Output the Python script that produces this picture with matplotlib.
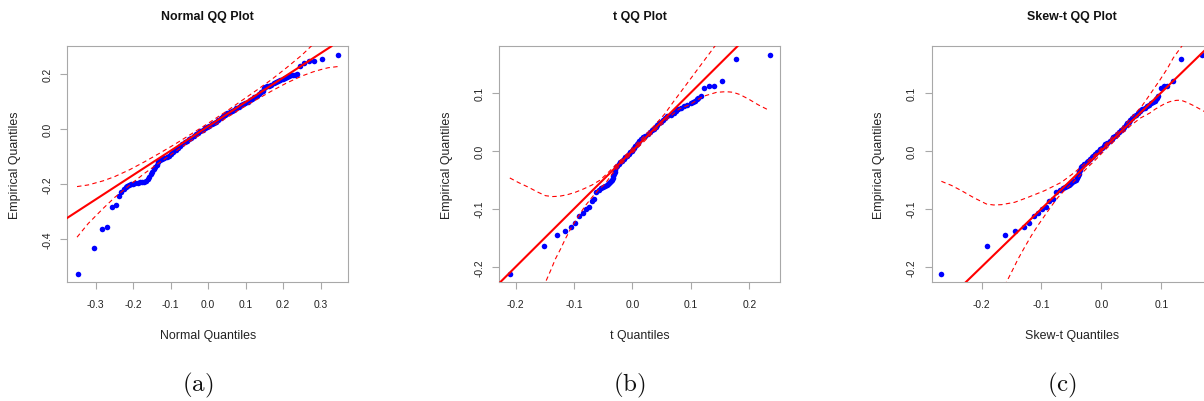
import matplotlib
matplotlib.use("Agg")
import matplotlib.pyplot as plt

plt.rcParams['font.family'] = ['Liberation Sans', 'DejaVu Sans']
plt.rcParams['mathtext.fontset'] = 'cm'

# ---- panel (a): Normal QQ ----
norm_x = [-0.348, -0.305, -0.283, -0.269, -0.256, -0.247, -0.239, -0.232, -0.225, -0.220,
          -0.216, -0.211, -0.206, -0.200, -0.194, -0.188, -0.182, -0.176, -0.170, -0.165,
          -0.161, -0.157, -0.153, -0.149, -0.145, -0.141, -0.137, -0.133, -0.128, -0.123,
          -0.117, -0.111, -0.105, -0.099, -0.093, -0.087, -0.081, -0.075, -0.069, -0.063,
          -0.057, -0.051, -0.045, -0.039, -0.033, -0.027, -0.021, -0.015, -0.009, -0.003,
          0.003, 0.009, 0.015, 0.021, 0.027, 0.033, 0.039, 0.045, 0.051, 0.057,
          0.063, 0.069, 0.075, 0.081, 0.087, 0.093, 0.099, 0.105, 0.111, 0.117,
          0.123, 0.129, 0.135, 0.141, 0.146, 0.148, 0.152, 0.157, 0.163, 0.169,
          0.175, 0.181, 0.187, 0.193, 0.199, 0.205, 0.211, 0.217, 0.222, 0.227,
          0.232, 0.237, 0.246, 0.256, 0.268, 0.283, 0.304, 0.347]
norm_y = [-0.525, -0.430, -0.364, -0.354, -0.282, -0.276, -0.242, -0.229, -0.217, -0.211,
          -0.205, -0.202, -0.199, -0.197, -0.195, -0.194, -0.193, -0.192, -0.190, -0.186,
          -0.180, -0.173, -0.164, -0.154, -0.144, -0.136, -0.128, -0.120, -0.113, -0.108,
          -0.104, -0.100, -0.096, -0.088, -0.081, -0.074, -0.067, -0.060, -0.054, -0.047,
          -0.041, -0.035, -0.030, -0.024, -0.018, -0.012, -0.006, -0.001, 0.004, 0.009,
          0.014, 0.018, 0.023, 0.028, 0.034, 0.041, 0.047, 0.053, 0.058, 0.062,
          0.066, 0.071, 0.077, 0.083, 0.088, 0.092, 0.096, 0.101, 0.106, 0.111,
          0.117, 0.123, 0.129, 0.135, 0.141, 0.151, 0.154, 0.156, 0.159, 0.163,
          0.167, 0.171, 0.175, 0.180, 0.184, 0.188, 0.191, 0.194, 0.196, 0.198,
          0.199, 0.200, 0.231, 0.241, 0.247, 0.250, 0.255, 0.270]
norm_line = (0.011, 0.885)   # intercept, slope
norm_env_x = [-0.35, -0.32, -0.28, -0.25, -0.21, -0.17, -0.13, -0.09, -0.05, 0.0,
              0.05, 0.09, 0.13, 0.17, 0.21, 0.25, 0.28, 0.30, 0.32, 0.35]
norm_up = [-0.208, -0.202, -0.187, -0.172, -0.147, -0.118, -0.087, -0.055, -0.021, 0.022,
           0.067, 0.105, 0.143, 0.182, 0.225, 0.270, 0.309, 0.337, 0.364, 0.413]
norm_lo = [-0.392, -0.342, -0.287, -0.248, -0.203, -0.160, -0.121, -0.083, -0.045, 0.0,
           0.043, 0.077, 0.109, 0.140, 0.169, 0.194, 0.209, 0.217, 0.224, 0.229]

# ---- panels (b) and (c): same empirical quantiles ----
emp_y = [-0.2117, -0.1647, -0.1451, -0.1391, -0.1308, -0.1239, -0.1119, -0.1076, -0.1000, -0.0975,
         -0.0863, -0.0837, -0.0717,
         -0.0671, -0.0651, -0.0631, -0.0611, -0.0591, -0.0574, -0.0560, -0.0545, -0.0525, -0.0500,
         -0.0476, -0.0440, -0.0400, -0.0373, -0.0330, -0.0290, -0.0258, -0.0230, -0.0200, -0.0172,
         -0.0140, -0.0115, -0.0086, -0.0058, -0.0029, 0.0, 0.0025, 0.0050, 0.0080, 0.0110,
         0.0140, 0.0170, 0.0200, 0.0230, 0.0260, 0.0290, 0.0320, 0.0350, 0.0380, 0.0410,
         0.0440, 0.0470, 0.0500, 0.0530, 0.0560, 0.0590, 0.0620, 0.0650, 0.0680, 0.0710,
         0.0740, 0.0765, 0.0790, 0.0815, 0.0835, 0.0860, 0.0885, 0.0912, 0.0940,
         0.1079, 0.1107, 0.1119, 0.1193, 0.1578, 0.1647]
t_x = [-0.2100, -0.1508, -0.1286, -0.1149, -0.1047, -0.0979, -0.0910, -0.0853, -0.0796, -0.0751,
       -0.0694, -0.0660, -0.0620,
       -0.0569, -0.0541, -0.0512, -0.0475, -0.0438, -0.0417, -0.0400, -0.0381, -0.0369, -0.0355,
       -0.0341, -0.0329, -0.0316, -0.0307, -0.0292, -0.0278, -0.0267, -0.0239, -0.0210, -0.0182,
       -0.0150, -0.0126, -0.0097, -0.0068, -0.0040, -0.0011, 0.0007, 0.0025, 0.0047, 0.0069,
       0.0091, 0.0119, 0.0153, 0.0188, 0.0222, 0.0257, 0.0293, 0.0330, 0.0365, 0.0395,
       0.0425, 0.0455, 0.0485, 0.0515, 0.0552, 0.0597, 0.0655, 0.0711, 0.0744, 0.0777,
       0.0828, 0.0875, 0.0933, 0.0995, 0.1043, 0.1070, 0.1097, 0.1127, 0.1170,
       0.1229, 0.1309, 0.1400, 0.1536, 0.1770, 0.2350]
skt_x = [-0.2671, -0.1909, -0.1608, -0.1436, -0.1297, -0.1202, -0.1124, -0.1057, -0.0990, -0.0918,
         -0.0874, -0.0807, -0.0751,
         -0.0690, -0.0648, -0.0607, -0.0578, -0.0548, -0.0523, -0.0503, -0.0482, -0.0456, -0.0426,
         -0.0408, -0.0393, -0.0377, -0.0367, -0.0352, -0.0338, -0.0328, -0.0288, -0.0245, -0.0217,
         -0.0186, -0.0161, -0.0133, -0.0106, -0.0078, -0.0046, -0.0018, 0.0010, 0.0039, 0.0068,
         0.0099, 0.0136, 0.0173, 0.0202, 0.0230, 0.0259, 0.0293, 0.0328, 0.0356, 0.0381,
         0.0407, 0.0432, 0.0458, 0.0483, 0.0509, 0.0543, 0.0578, 0.0611, 0.0644, 0.0679,
         0.0723, 0.0759, 0.0795, 0.0832, 0.0866, 0.0889, 0.0904, 0.0924, 0.0950,
         0.0996, 0.1046, 0.1102, 0.1191, 0.1330, 0.1680]

t_line = (0.0, 1.0)
t_up_x = [-0.210, -0.195, -0.178, -0.163, -0.149, -0.137, -0.126, -0.112, -0.098, -0.084, -0.069,
          -0.056, -0.044, -0.030, -0.015, 0.0, 0.02, 0.04, 0.055, 0.07, 0.09, 0.11, 0.13, 0.15]
t_up_y = [-0.047, -0.055, -0.063, -0.071, -0.0775, -0.0790, -0.0786, -0.0760, -0.0717, -0.0660, -0.0590,
          -0.0510, -0.0400, -0.0260, -0.0110, 0.0045, 0.0250, 0.0460, 0.0630, 0.0840, 0.1110, 0.1380,
          0.1650, 0.1920]
t_lo_x = [-0.153, -0.149, -0.140, -0.132, -0.123, -0.115, -0.104, -0.092, -0.081, -0.069, -0.058,
          -0.047, -0.035, -0.02, 0.0, 0.02, 0.04, 0.06, 0.08, 0.098, 0.121, 0.144, 0.160, 0.172,
          0.184, 0.200, 0.215, 0.235]
t_lo_y = [-0.236, -0.2266, -0.206, -0.1865, -0.169, -0.152, -0.131, -0.112, -0.095, -0.080, -0.067,
          -0.0574, -0.040, -0.024, -0.004, 0.016, 0.036, 0.055, 0.072, 0.0791, 0.0935, 0.1004, 0.1015,
          0.1005, 0.0965, 0.088, 0.079, 0.0688]

skt_line = (0.0, 1.0)
skt_up_x = [-0.2671, -0.2500, -0.2337, -0.2130, -0.192, -0.180, -0.167, -0.1447, -0.1224, -0.0946,
            -0.0668, -0.0445, -0.025, -0.010, 0.005, 0.02, 0.035, 0.05, 0.0674, 0.082, 0.098, 0.110,
            0.120, 0.1341, 0.145]
skt_up_y = [-0.0528, -0.0600, -0.0688, -0.0810, -0.0918, -0.0935, -0.0930, -0.0889, -0.0803, -0.0688,
            -0.0545, -0.0373, -0.0200, -0.0060, 0.009, 0.025, 0.040, 0.057, 0.0763, 0.098, 0.122, 0.141,
            0.1595, 0.1796, 0.197]
skt_lo_x = [-0.1610, -0.1586, -0.1480, -0.1391, -0.1280, -0.1169, -0.1058, -0.0946, -0.0835, -0.0723,
            -0.0612, -0.0501, -0.039, -0.025, -0.010, 0.005, 0.02, 0.035, 0.05, 0.065, 0.0813, 0.090,
            0.098, 0.108, 0.118, 0.1258, 0.1330, 0.1425, 0.155, 0.1714, 0.186]
skt_lo_y = [-0.2330, -0.2266, -0.2050, -0.1865, -0.1660, -0.1463, -0.1285, -0.1119, -0.0955, -0.0803,
            -0.0680, -0.0574, -0.046, -0.031, -0.016, 0.000, 0.015, 0.030, 0.044, 0.056, 0.065, 0.0715,
            0.0763, 0.082, 0.0855, 0.0866, 0.0868, 0.0832, 0.077, 0.0677, 0.058]

titles = ["Normal QQ Plot", "t QQ Plot", "Skew-t QQ Plot"]
xlabels = ["Normal Quantiles", "t Quantiles", "Skew-t Quantiles"]
sublabels = ["(a)", "(b)", "(c)"]

norm_xticks = [-0.3, -0.2, -0.1, 0.0, 0.1, 0.2, 0.3]
norm_yticks = [-0.4, -0.2, 0.0, 0.2]
t_xticks = [-0.2, -0.1, 0.0, 0.1, 0.2]
skt_xticks = [-0.2, -0.1, 0.0, 0.1]
ty_ticks = [-0.2, -0.1, 0.0, 0.1]

W, H = 1204, 402
fig = plt.figure(figsize=(W / 100, H / 100), dpi=100)

panels = [
    (67.3, norm_x, norm_y, norm_line, (norm_env_x, norm_up), (norm_env_x, norm_lo),
     norm_xticks, norm_yticks, (-0.376, 0.374), (-0.556, 0.302)),
    (499.3, t_x, emp_y, t_line, (t_up_x, t_up_y), (t_lo_x, t_lo_y),
     t_xticks, ty_ticks, (-0.228, 0.253), (-0.2266, 0.1796)),
    (931.7, skt_x, emp_y, skt_line, (skt_up_x, skt_up_y), (skt_lo_x, skt_lo_y),
     skt_xticks, ty_ticks, (-0.2833, 0.1859), (-0.2266, 0.1796)),
]

frame = '#a8a8a8'
for i, (left, xs, ys, line, up, lo, xt, yt, xl, yl) in enumerate(panels):
    ax = fig.add_axes([left / W, (H - 283.3) / H, 281 / W, 236 / H])
    ax.plot(xs, ys, 'o', color='#0000ff', ms=4.0, mew=0, zorder=2)
    ax.axline((0, line[0]), slope=line[1], color='#ff0000', lw=1.5, zorder=3)
    ax.plot(up[0], up[1], color='#ff0000', lw=0.8, ls=(0, (4, 3)), zorder=3)
    ax.plot(lo[0], lo[1], color='#ff0000', lw=0.8, ls=(0, (4, 3)), zorder=3)
    ax.set_xlim(xl)
    ax.set_ylim(yl)
    ax.set_xticks(xt, labels=[f"{v:.1f}" for v in xt])
    ax.set_yticks(yt, labels=[f"{v:.1f}" for v in yt])
    for s in ax.spines.values():
        s.set_color(frame)
        s.set_linewidth(0.8)
    ax.tick_params(direction='out', length=5, width=0.8, color=frame,
                   labelsize=7.4, labelcolor='#222222')
    ax.tick_params(axis='x', pad=7.3)
    ax.tick_params(axis='y', pad=5.8)
    plt.setp(ax.get_yticklabels(), rotation=90, va='center')

    cx = (left + 140.5) / W
    fig.text(cx, 1 - 16.7 / H, titles[i], ha='center', va='center',
             fontsize=8.9, fontweight='bold', color='#111111')
    fig.text(cx, 1 - 336 / H, xlabels[i], ha='center', va='center',
             fontsize=8.9, color='#222222')
    fig.text((left - 52.3) / W, 1 - 165.3 / H, "Empirical Quantiles", ha='center',
             va='center', rotation=90, fontsize=8.9, color='#222222')
    fig.text((left + 130.5) / W, 1 - 385 / H, r'$\mathrm{' + sublabels[i] + '}$',
             ha='center', va='center', fontsize=18, color='#111111')

fig.savefig("out.png", dpi=100)
